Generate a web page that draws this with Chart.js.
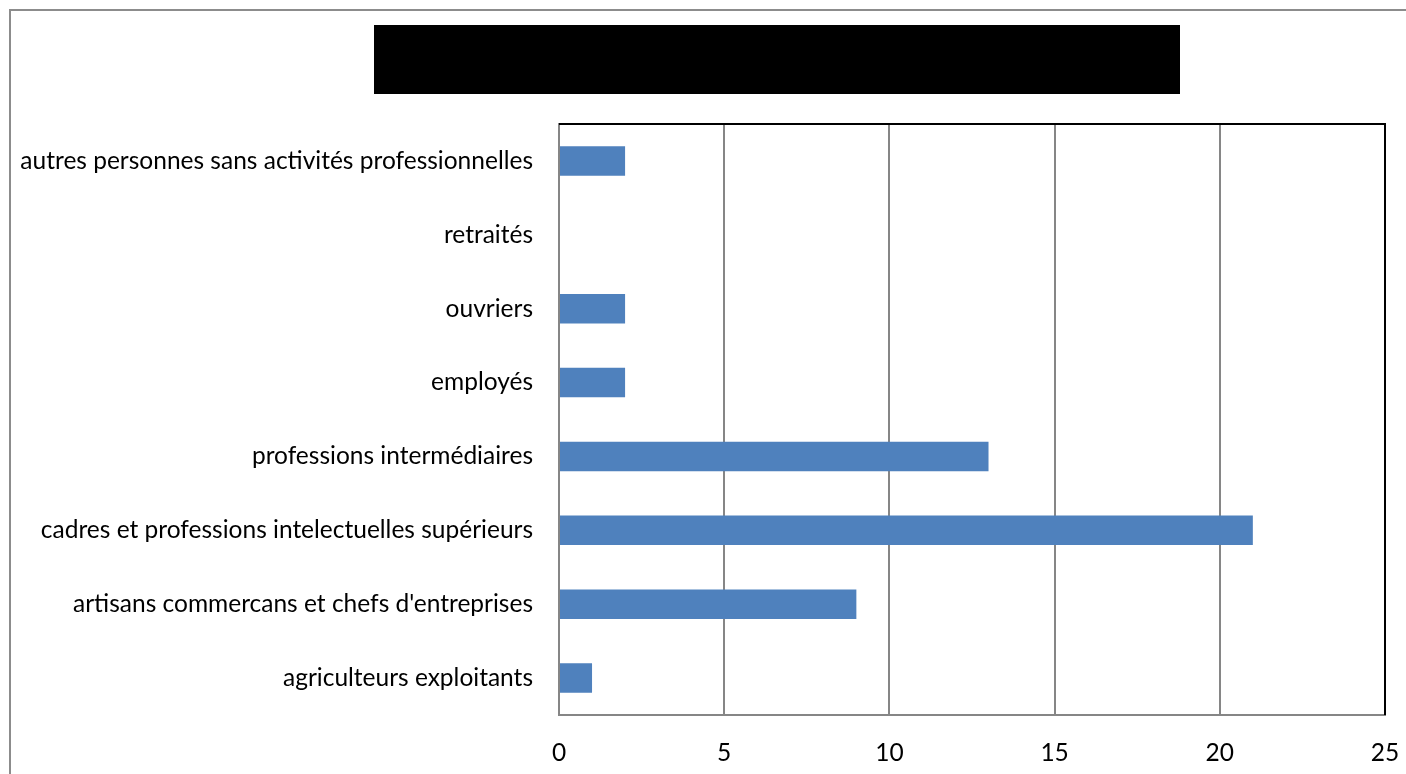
<!DOCTYPE html>
<html><head><meta charset="utf-8">
<script src="https://cdn.jsdelivr.net/npm/chart.js@4/dist/chart.umd.min.js"></script>
<style>html,body{margin:0;padding:0;background:#fff}#wrap{width:1406px;height:774px;position:relative}</style>
</head><body><div id="wrap"><canvas id="c" width="1406" height="774"></canvas></div>
<script>
const categories = [
  "autres personnes sans activités professionnelles",
  "retraités",
  "ouvriers",
  "employés",
  "professions intermédiaires",
  "cadres et professions intelectuelles supérieurs",
  "artisans commercans et chefs d'entreprises",
  "agriculteurs exploitants"
];
const values = [2, 0, 2, 2, 13, 21, 9, 1];
const xTicks = [0, 5, 10, 15, 20, 25];

const FONT = "Lato, 'Liberation Sans', sans-serif";

const decor = {
  id: 'decor',
  beforeDraw(chart) {
    const ctx = chart.ctx;
    ctx.save();
    ctx.fillStyle = '#fff';
    ctx.fillRect(0, 0, chart.width, chart.height);
    ctx.strokeStyle = '#8c8c8c';
    ctx.lineWidth = 2;
    ctx.strokeRect(10, 10, chart.width + 20, chart.height + 20);
    // redacted title block
    ctx.fillStyle = '#000';
    ctx.fillRect(374, 25, 806, 69);
    ctx.restore();
  },
  afterDatasetsDraw(chart) {
    const a = chart.chartArea, ctx = chart.ctx;
    ctx.save();
    ctx.strokeStyle = '#000';
    ctx.lineWidth = 2;
    ctx.beginPath();
    ctx.moveTo(a.left, a.top);
    ctx.lineTo(a.right, a.top);
    ctx.lineTo(a.right, a.bottom);
    ctx.stroke();
    ctx.restore();
  }
};

new Chart(document.getElementById('c'), {
  type: 'bar',
  data: {
    labels: categories,
    datasets: [{ data: values, backgroundColor: '#4F81BD', borderWidth: 0,
      barPercentage: 0.8, categoryPercentage: 0.5 }]
  },
  options: {
    indexAxis: 'y',
    responsive: false,
    animation: false,
    layout: { padding: { top: 124, right: 21, left: 0, bottom: 0 } },
    plugins: { legend: { display: false }, tooltip: { enabled: false }, title: { display: false } },
    scales: {
      x: {
        min: 0, max: 25,
        afterBuildTicks(s) { s.ticks = xTicks.map(v => ({ value: v })); },
        afterFit(s) { s.height = 59; s.paddingLeft = 0; s.paddingRight = 0; },
        grid: { color: '#868686', lineWidth: 2, drawTicks: false },
        border: { color: '#868686', width: 2 },
        ticks: { color: '#000', font: { family: FONT, size: 24.5 }, padding: 23 }
      },
      y: {
        afterFit(s) { s.width = 559; s.paddingTop = 0; s.paddingBottom = 0; },
        grid: { display: false, drawTicks: false },
        border: { color: '#868686', width: 2 },
        ticks: { color: '#000', font: { family: FONT, size: 24.5 }, padding: 26, autoSkip: false }
      }
    }
  },
  plugins: [decor]
});
</script>
</body></html>
